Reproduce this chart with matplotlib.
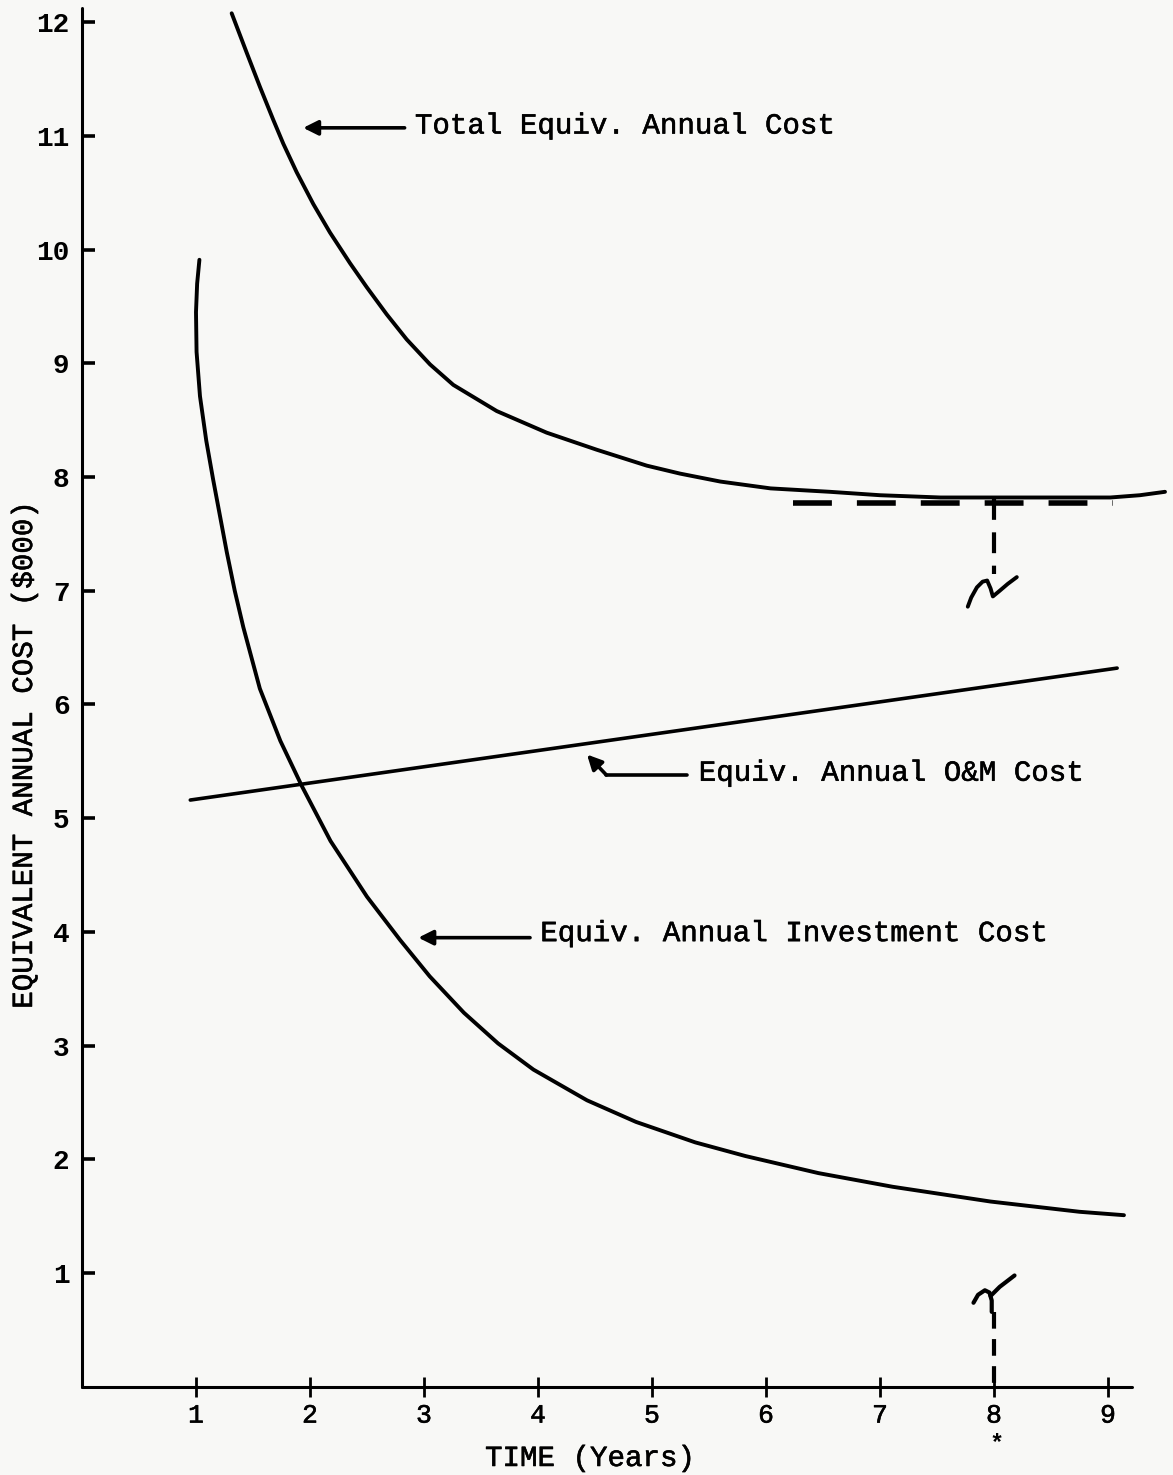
import matplotlib
matplotlib.use('Agg')
import matplotlib.pyplot as plt
import matplotlib.patheffects as pe

plt.rcParams['font.family'] = ['Liberation Mono', 'DejaVu Sans Mono']

# ---------------- data ----------------
total_years = [1.313, 1.445, 1.561, 1.678, 1.766, 1.883, 2.029, 2.175, 2.351, 2.497,
               2.673, 2.848, 3.053, 3.257, 3.638, 4.076, 4.515, 4.954, 5.246, 5.60,
               6.04, 6.56, 7.0, 7.53, 7.96, 8.49, 9.02, 9.28, 9.5]
total_cost = [12.077, 11.73, 11.43, 11.14, 10.93, 10.68, 10.40, 10.15, 9.88, 9.67,
              9.43, 9.21, 8.99, 8.81, 8.58, 8.39, 8.24, 8.10, 8.03, 7.96,
              7.90, 7.87, 7.84, 7.82, 7.82, 7.82, 7.82, 7.84, 7.87]

invest_years = [1.03, 1.01, 1.0, 1.005, 1.035, 1.09, 1.15, 1.27, 1.34, 1.415, 1.56, 1.74,
                1.93, 2.18, 2.50, 2.79, 3.05, 3.35, 3.65, 3.96, 4.43, 4.86, 5.38, 5.82,
                6.46, 7.11, 7.97, 8.75, 9.14]
invest_cost = [9.91, 9.70, 9.45, 9.10, 8.71, 8.32, 7.98, 7.34, 7.00, 6.68, 6.14, 5.68,
               5.28, 4.80, 4.31, 3.93, 3.61, 3.29, 3.02, 2.79, 2.52, 2.33, 2.15, 2.03,
               1.88, 1.76, 1.63, 1.54, 1.51]

om_years = [0.95, 9.08]
om_cost = [5.16, 6.32]

x_ticks = [1, 2, 3, 4, 5, 6, 7, 8, 9]
x_labels = ['1', '2', '3', '4', '5', '6', '7', '8', '9']
y_ticks = [1, 2, 3, 4, 5, 6, 7, 8, 9, 10, 11, 12]
y_labels = ['1', '2', '3', '4', '5', '6', '7', '8', '9', '10', '11', '12']

optimum_year = 8
min_cost_level = 7.77
min_line_span = [6.24, 9.04]
upper_drop = [7.81, 7.15]
lower_drop = [0.66, 0.0]
upper_break_x = [7.77, 7.80, 7.85, 7.90, 7.94, 7.97, 7.99, 8.05, 8.12, 8.20]
upper_break_y = [6.86, 6.94, 7.03, 7.08, 7.09, 7.02, 6.95, 7.00, 7.06, 7.12]
lower_break_x = [7.82, 7.86, 7.92, 7.96, 7.98, 7.98]
lower_break_y = [0.74, 0.81, 0.85, 0.83, 0.76, 0.66]
lower_arm_x = [7.97, 8.05, 8.18]
lower_arm_y = [0.80, 0.88, 0.98]

label_total = 'Total Equiv. Annual Cost'
label_om = 'Equiv. Annual O&M Cost'
label_inv = 'Equiv. Annual Investment Cost'

# ---------------- figure ----------------
ink = [pe.withStroke(linewidth=0.4, foreground='black')]

fig = plt.figure(figsize=(11.73, 14.75), dpi=100, facecolor='#f8f8f6')
ax = fig.add_axes([0.0699, 0.0597, 0.8951, 0.9346])
ax.set_facecolor('none')
ax.set_xlim(0, 9.21)
ax.set_ylim(0, 12.12)
for s in ['top', 'right']:
    ax.spines[s].set_visible(False)
for s in ['left', 'bottom']:
    ax.spines[s].set_linewidth(2.2)
    ax.spines[s].set_capstyle('round')

ax.set_xticks(x_ticks)
ax.set_xticklabels(x_labels)
ax.set_yticks(y_ticks)
ax.set_yticklabels(y_labels)
ax.tick_params(axis='x', direction='inout', length=14, width=2, pad=5, labelsize=19)
ax.tick_params(axis='y', direction='in', length=9, width=2.6, pad=9, labelsize=20)
for lab in ax.get_xticklabels():
    lab.set_path_effects(ink)
for lab in ax.get_yticklabels():
    lab.set_fontweight('bold')

lw = 2.8
ax.plot(total_years, total_cost, color='black', lw=lw, clip_on=False,
        solid_capstyle='round', solid_joinstyle='round')
ax.plot(invest_years, invest_cost, color='black', lw=lw, clip_on=False,
        solid_capstyle='round', solid_joinstyle='round')
ax.plot(om_years, om_cost, color='black', lw=2.6, clip_on=False, solid_capstyle='round')

# minimum-cost construction
ax.plot(min_line_span, [min_cost_level, min_cost_level], color='black', lw=4,
        linestyle=(0, (7, 4.5)), clip_on=False)
ax.plot([optimum_year, optimum_year], upper_drop, color='black', lw=3,
        linestyle=(0, (5, 3)), clip_on=False)
ax.plot([optimum_year, optimum_year], lower_drop, color='black', lw=3,
        linestyle=(0, (4, 2.5)), clip_on=False)
ax.plot(upper_break_x, upper_break_y, color='black', lw=2.8, clip_on=False,
        solid_capstyle='round', solid_joinstyle='round')
ax.plot(lower_break_x, lower_break_y, color='black', lw=3, clip_on=False,
        solid_capstyle='round', solid_joinstyle='round')
ax.plot(lower_arm_x, lower_arm_y, color='black', lw=3, clip_on=False,
        solid_capstyle='round', solid_joinstyle='round')

# annotations
arrow = dict(arrowstyle='-|>', color='black', lw=2.6, mutation_scale=22,
             shrinkA=0, shrinkB=0)
ax.annotate('', xy=(1.94, 11.07), xytext=(2.83, 11.07), arrowprops=arrow)
ax.text(2.92, 11.09, label_total, fontsize=21, ha='left', va='center', path_effects=ink)

ax.plot([5.31, 4.60], [5.38, 5.38], color='black', lw=2.6, solid_capstyle='round')
ax.annotate('', xy=(4.43, 5.56), xytext=(4.60, 5.38), arrowprops=arrow)
ax.text(5.41, 5.40, label_om, fontsize=21, ha='left', va='center', path_effects=ink)

ax.annotate('', xy=(2.95, 3.95), xytext=(3.93, 3.95), arrowprops=arrow)
ax.text(4.02, 3.99, label_inv, fontsize=21, ha='left', va='center', path_effects=ink)

# axis titles
fig.text(24 / 1173, 1 - 755 / 1475, 'EQUIVALENT ANNUAL COST ($000)', rotation=90,
         ha='center', va='center', fontsize=21, path_effects=ink)
fig.text(590 / 1173, 1 - 1458 / 1475, 'TIME (Years)', ha='center', va='center',
         fontsize=21, path_effects=ink)
fig.text(997 / 1173, 1 - 1444 / 1475, '*', ha='center', va='center', fontsize=17,
         fontweight='bold')

fig.savefig('out.png', dpi=100, facecolor=fig.get_facecolor())
